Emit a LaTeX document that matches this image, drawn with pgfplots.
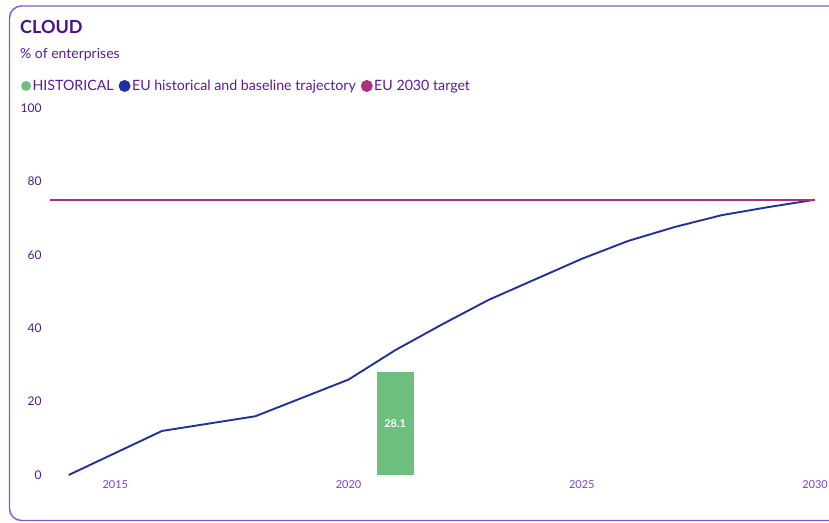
\documentclass[border=0pt]{standalone}
\usepackage{fontspec}
\setmainfont{Lato}
\usepackage{pgfplots}
\pgfplotsset{compat=1.18}
\definecolor{framecol}{HTML}{8755D8}
\definecolor{titlecol}{HTML}{4A0F8F}
\definecolor{subcol}{HTML}{5A1A9A}
\definecolor{ytickcol}{HTML}{4D1A8C}
\definecolor{xtickcol}{HTML}{8040C8}
\definecolor{barcol}{HTML}{6DBF80}
\definecolor{linecol}{HTML}{2230A0}
\definecolor{targetcol}{HTML}{A8327C}
\begin{document}
\begin{tikzpicture}
\useasboundingbox (0pt,0pt) rectangle (829pt,522pt);
\begin{scope}
\clip (0pt,0pt) rectangle (829pt,522pt);
\draw[framecol, line width=1.4pt, rounded corners=12pt] (9.5pt,1.5pt) rectangle (845pt,516pt);
\end{scope}
\node[anchor=base west, inner sep=0, font=\bfseries\fontsize{18}{22}\selectfont, text=titlecol] at (20pt,488pt) {CLOUD};
\node[anchor=base west, inner sep=0, font=\fontsize{14}{16}\selectfont, text=subcol] at (20pt,463pt) {\% of enterprises};
\begin{axis}[
  at={(50pt,47pt)}, anchor=south west, scale only axis,
  width=765pt, height=367pt,
  xmin=2013.6, xmax=2030, ymin=0, ymax=100,
  ytick={0,20,40,60,80,100},
  xtick={2015,2020,2025,2030},
  xticklabels={2015,2020,2025,2030},
  axis line style={draw=none},
  major tick length=0pt,
  clip=false,
  /pgf/number format/assume math mode=true,
  yticklabel style={font=\fontsize{12}{14}\selectfont, text=ytickcol, xshift=-5pt},
  xticklabel style={font=\fontsize{11}{13}\selectfont, text=xtickcol, yshift=-2pt},
  legend style={at={(axis description cs:-0.042,1.060)}, anchor=west, draw=none, fill=none,
    font=\fontsize{14.2}{16}\selectfont, text=subcol,
    /tikz/every even column/.append style={column sep=3.5pt},
    nodes={inner sep=1.5pt}},
  legend columns=-1,
]
\addplot[ybar, bar width=37pt, fill=barcol, draw=none,
  legend image code/.code={\fill[barcol] (5pt,0pt) circle (5pt);}]
  coordinates {(2021,28.1)};
\addlegendentry{HISTORICAL}
\addplot[linecol, line width=1.9pt, mark=none,
  legend image code/.code={\fill[linecol] (5pt,0pt) circle (5pt);}]
  coordinates {(2014,0) (2016,12) (2018,16) (2020,26) (2021,34) (2022,41) (2023,47.7) (2024,53.3) (2025,58.9) (2026,63.8) (2027,67.6) (2028,70.8) (2029,73) (2030,75)};
\addlegendentry{EU historical and baseline trajectory}
\addplot[targetcol, line width=1.9pt, mark=none,
  legend image code/.code={\fill[targetcol] (5pt,0pt) circle (5pt);}]
  coordinates {(2013.6,75) (2030,75)};
\addlegendentry{EU 2030 target}
\addplot[draw=none, mark=none, forget plot, nodes near coords, point meta=explicit symbolic,
  nodes near coords style={anchor=center, text=white, font=\bfseries\fontsize{11}{13}\selectfont}]
  coordinates {(2021,14.05) [28.1]};
\end{axis}
\end{tikzpicture}
\end{document}
